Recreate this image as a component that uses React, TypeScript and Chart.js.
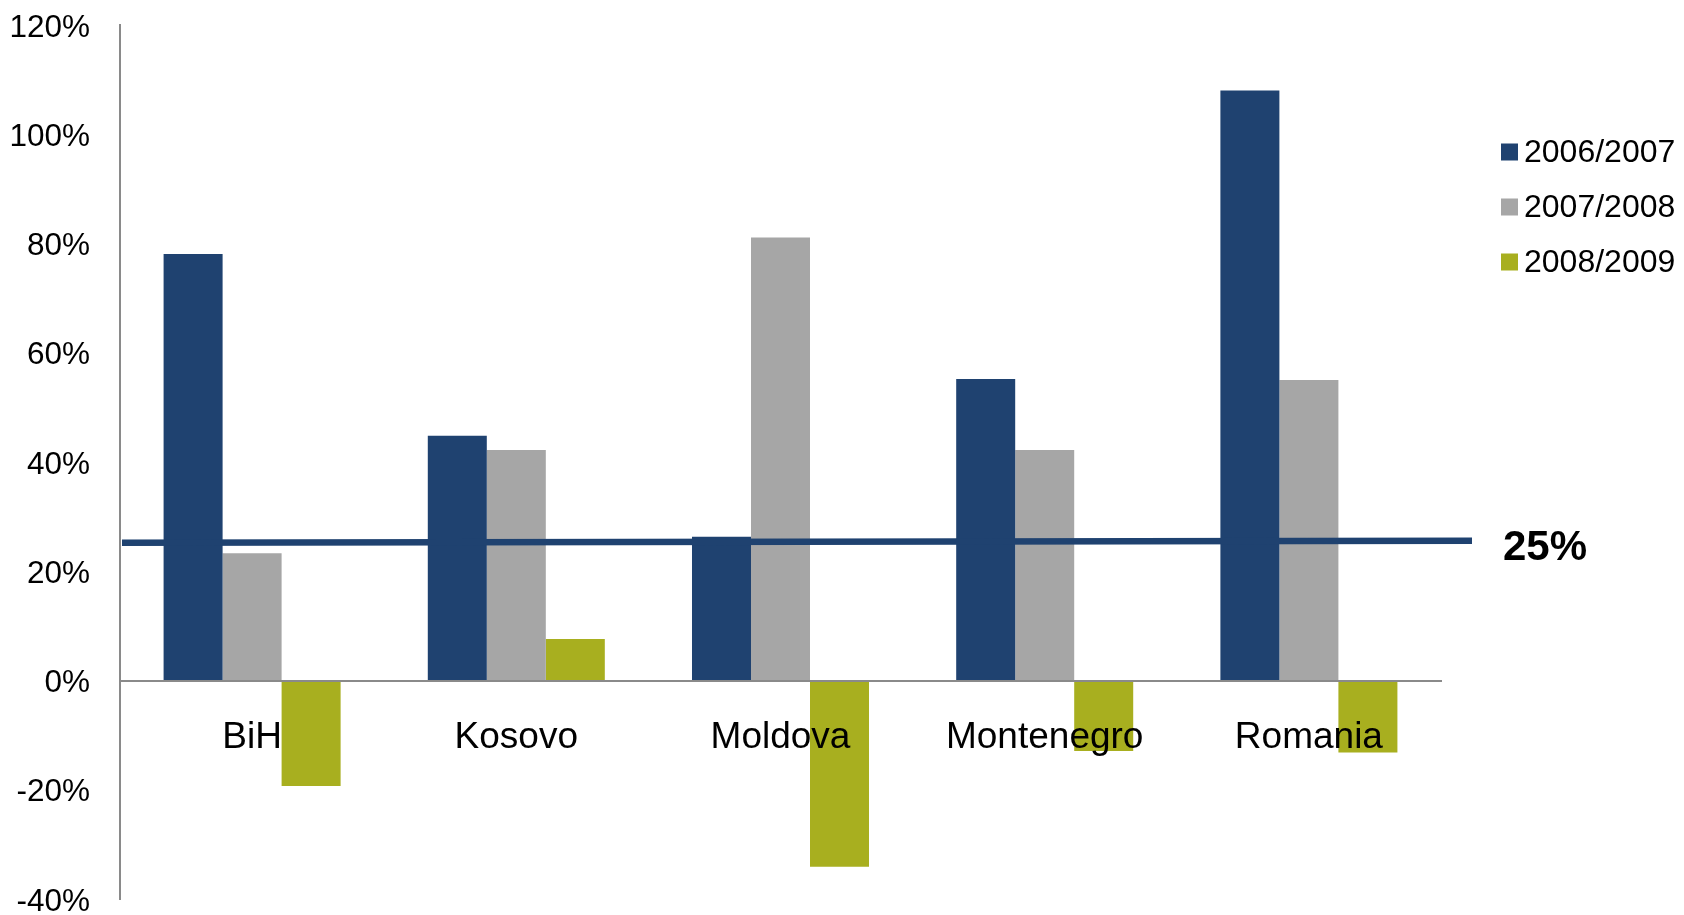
import React, { useEffect, useRef } from 'react';
import { Chart, registerables } from 'chart.js';

Chart.register(...registerables);

const CATEGORIES = ['BiH', 'Kosovo', 'Moldova', 'Montenegro', 'Romania'];
const SERIES_LABELS = ['2006/2007', '2007/2008', '2008/2009'];
const SERIES_2006_2007 = [78.1, 44.8, 26.3, 55.2, 108.0];
const SERIES_2007_2008 = [23.3, 42.2, 81.1, 42.2, 55.0];
const SERIES_2008_2009 = [-19.3, 7.6, -34.1, -12.9, -13.2];
const SERIES_COLORS = ['#1F4270', '#A6A6A6', '#A8AF1F'];
const Y_MIN = -40;
const Y_MAX = 120;
const Y_STEP = 20;
const THRESHOLD_START = 25.2;
const THRESHOLD_END = 25.6;
const THRESHOLD_LABEL = '25%';

const FONT = '"Liberation Sans", Arial, Helvetica, sans-serif';

const overlayPlugin = {
  id: 'overlay',
  afterDatasetsDraw(chart: any) {
    const { ctx, chartArea, scales } = chart;
    const y = scales.y;
    ctx.save();
    ctx.strokeStyle = SERIES_COLORS[0];
    ctx.lineWidth = 6.5;
    ctx.lineCap = 'butt';
    ctx.beginPath();
    ctx.moveTo(chartArea.left + 2, y.getPixelForValue(THRESHOLD_START));
    ctx.lineTo(chartArea.right + 31, y.getPixelForValue(THRESHOLD_END));
    ctx.stroke();
    ctx.restore();
  },
  afterDraw(chart: any) {
    const { ctx, chartArea, scales } = chart;
    const y = scales.y;
    ctx.save();
    ctx.fillStyle = '#000';
    ctx.textAlign = 'left';
    ctx.textBaseline = 'middle';
    ctx.font = `bold 42px ${FONT}`;
    ctx.fillText(THRESHOLD_LABEL, chartArea.right + 62, y.getPixelForValue(THRESHOLD_END) + 8);

    // legend
    ctx.font = `32px ${FONT}`;
    chart.data.datasets.forEach((ds: any, i: number) => {
      const cy = chartArea.top + 127 + i * 55;
      const bx = chartArea.right + 60;
      ctx.fillStyle = ds.backgroundColor;
      ctx.fillRect(bx, cy - 8.5, 17, 17);
      ctx.fillStyle = '#000';
      ctx.fillText(ds.label, bx + 23, cy + 1);
    });
    ctx.restore();
  },
};

export default function App() {
  const canvasRef = useRef<HTMLCanvasElement | null>(null);

  useEffect(() => {
    document.body.style.margin = '0';
    const canvas = canvasRef.current;
    if (!canvas) return;
    const chart = new Chart(canvas, {
      type: 'bar',
      data: {
        labels: CATEGORIES,
        datasets: [
          { label: SERIES_LABELS[0], data: SERIES_2006_2007, backgroundColor: SERIES_COLORS[0] },
          { label: SERIES_LABELS[1], data: SERIES_2007_2008, backgroundColor: SERIES_COLORS[1] },
          { label: SERIES_LABELS[2], data: SERIES_2008_2009, backgroundColor: SERIES_COLORS[2] },
        ],
      },
      options: {
        responsive: false,
        animation: false,
        events: [],
        layout: { padding: { left: 0, right: 243, top: 25, bottom: 16 } },
        datasets: {
          bar: { categoryPercentage: 0.67, barPercentage: 1, borderWidth: 0 },
        },
        plugins: {
          legend: { display: false },
          tooltip: { enabled: false },
          title: { display: false },
        },
        scales: {
          x: {
            position: { y: 0 },
            grid: { display: false, drawTicks: false },
            border: { display: true, color: '#8A8A8A', width: 2, z: 1 },
            ticks: {
              z: 1,
              padding: 35,
              color: '#000',
              font: { family: FONT, size: 37 },
              maxRotation: 0,
              autoSkip: false,
            },
          },
          y: {
            min: Y_MIN,
            max: Y_MAX,
            grid: { display: false, drawTicks: false },
            border: { display: true, color: '#8A8A8A', width: 2 },
            ticks: {
              stepSize: Y_STEP,
              padding: 30,
              labelOffset: 3,
              color: '#000',
              font: { family: FONT, size: 31.5 },
              callback: (v: any) => `${v}%`,
            },
            afterFit: (scale: any) => {
              scale.width = 120;
              scale.paddingTop = 0;
              scale.paddingBottom = 0;
            },
          },
        },
      },
      plugins: [overlayPlugin],
    });
    return () => chart.destroy();
  }, []);

  return (
    <div style={{ position: 'absolute', left: 0, top: 0, width: 1684, height: 915, background: '#fff' }}>
      <canvas ref={canvasRef} width={1684} height={915} style={{ display: 'block' }} />
    </div>
  );
}
